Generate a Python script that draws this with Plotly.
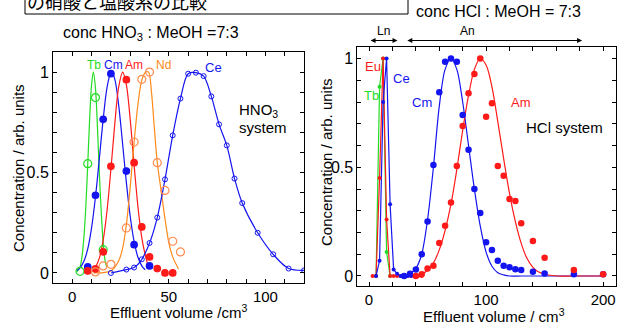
import plotly.graph_objects as go

# ---------------- HNO3 system (left panel) ----------------
tb_v = [4, 8, 12, 16]
tb_c = [0.008, 0.544, 0.873, 0.116]
tb_fit_v = [2.3, 4, 5, 6, 7, 8, 9, 10, 10.9, 12, 13, 14, 15, 16, 17, 17.8]
tb_fit_c = [0.005, 0.03, 0.08, 0.176, 0.33, 0.54, 0.77, 0.94, 1.0, 0.92, 0.73, 0.5, 0.3, 0.15, 0.06, 0.03]

cm_v = [8, 12, 16, 20, 28, 32, 40]
cm_c = [0.03, 0.387, 0.765, 0.992, 0.507, 0.141, 0.035]
cm_fit_v = [2.3, 4, 6, 8, 10, 12, 14, 16, 18, 20, 20.4, 22, 24, 26, 28, 30, 32, 34, 36, 37.7]
cm_fit_c = [0.011, 0.025, 0.058, 0.12, 0.226, 0.378, 0.569, 0.766, 0.924, 0.998, 1.0, 0.965,
            0.837, 0.649, 0.451, 0.281, 0.157, 0.078, 0.035, 0.016]

am_v = [8, 12, 16, 20, 28, 32, 36, 40, 44, 48, 52]
am_c = [0.01, 0.02, 0.105, 0.531, 0.962, 0.549, 0.229, 0.08, 0.022, 0.0, 0.0]
am_fit_v = [11, 12, 14, 16, 18, 20, 22, 24, 26.1, 28, 30, 32, 34, 36, 38, 39.4]
am_fit_c = [0.015, 0.029, 0.074, 0.163, 0.311, 0.516, 0.742, 0.925, 1.0, 0.938, 0.763, 0.538,
            0.329, 0.175, 0.08, 0.03]

nd_v = [12, 16, 20, 28, 32, 36, 40, 44, 48, 52, 56]
nd_c = [0.005, 0.035, 0.043, 0.224, 0.652, 0.964, 1.0, 0.549, 0.411, 0.158, 0.105]
nd_fit_v = [11, 16, 20, 24, 26, 28, 30, 32, 34, 36, 38, 39.5, 41, 42.5, 44, 46, 48, 50, 52, 55]
nd_fit_c = [0.0, 0.002, 0.01, 0.06, 0.12, 0.24, 0.43, 0.65, 0.84, 0.96, 1.0, 1.0, 0.9, 0.72,
            0.55, 0.41, 0.27, 0.15, 0.08, 0.02]

ce_v = [20, 28, 32, 36, 40, 44, 48, 52, 56, 60, 64, 68, 72, 76, 80, 84, 88, 96, 104, 112, 120]
ce_c = [0.0, 0.017, 0.027, 0.068, 0.149, 0.276, 0.466, 0.685, 0.868, 0.992, 0.997, 0.98,
        0.879, 0.74, 0.635, 0.47, 0.348, 0.2, 0.093, 0.022, 0.013]

# ---------------- HCl system (right panel) ----------------
eu2_v = [3, 6, 9, 12, 15, 18, 21, 24, 27, 30, 33, 36, 39, 42, 45]
eu2_c = [0, 0, 0.45, 1.0, 0.26, 0, 0, 0, 0, 0, 0, 0, 0, 0, 0]
tb2_v = [6, 9, 12, 15, 18]
tb2_c = [0, 0.87, 1.0, 0.11, 0]
ce2_v = [6, 9, 12, 15, 18, 21, 24, 27, 30, 33, 36]
ce2_c = [0, 0.07, 0.8, 1.0, 0.33, 0.03, 0.01, 0, 0, 0, 0]

cm2_v = [30, 35, 40, 45, 50, 55, 60, 65, 70, 75, 80, 85, 90, 95, 100, 105, 110, 115, 120,
         125, 130, 140, 150, 175, 200]
cm2_c = [0.0, 0.01, 0.03, 0.10, 0.25, 0.51, 0.845, 0.985, 1.0, 0.985, 0.74, 0.58, 0.40, 0.29,
         0.155, 0.12, 0.07, 0.047, 0.04, 0.031, 0.028, 0.02, 0.012, 0.008, 0.008]
cm2_fit_v = [25, 30, 35, 40, 45, 50, 55, 60, 65, 70, 75, 80, 85, 90, 95, 100, 105, 110, 115,
             120, 130, 150, 200]
cm2_fit_c = [0.0, 0.003, 0.012, 0.035, 0.1, 0.26, 0.5, 0.78, 0.95, 1.0, 0.95, 0.8, 0.6, 0.4,
             0.23, 0.11, 0.045, 0.015, 0.005, 0.0, 0.0, 0.0, 0.0]

am2_v = [40, 45, 50, 55, 60, 65, 70, 75, 80, 85, 90, 95, 100, 105, 110, 115, 120, 125, 130,
         140, 150, 175, 200]
am2_c = [0.0, 0.008, 0.035, 0.047, 0.152, 0.231, 0.338, 0.506, 0.69, 0.84, 0.929, 1.0, 0.732,
         0.794, 0.506, 0.461, 0.354, 0.345, 0.242, 0.161, 0.084, 0.028, 0.008]
am2_fit_v = [35, 40, 45, 50, 55, 60, 65, 70, 75, 80, 85, 90, 95, 100, 105, 110, 115, 120, 125,
             130, 135, 140, 145, 150, 160, 175, 200]
am2_fit_c = [0.0, 0.002, 0.01, 0.025, 0.06, 0.12, 0.21, 0.33, 0.49, 0.67, 0.83, 0.95, 1.0, 0.97,
             0.87, 0.71, 0.54, 0.38, 0.25, 0.15, 0.08, 0.04, 0.018, 0.008, 0.0, 0.0, 0.0]

# axis ticks
x1_ticks = list(range(0, 121, 10))
x1_labels = ["0", "", "", "", "", "50", "", "", "", "", "100", "", ""]
x2_ticks = list(range(0, 201, 20))
x2_labels = ["0", "", "", "", "", "100", "", "", "", "", "200"]
y_ticks = [round(0.1 * i, 1) for i in range(11)]
y_labels = ["0", "", "", "", "", "0.5", "", "", "", "", "1"]

GREEN = "#22dd22"
BLUE = "#1414f0"
RED = "#ff1a1a"
ORANGE = "#ff8a1a"
ORANGE_PT = "#ff8c50"
FONT = "Liberation Sans, Arial, sans-serif"
JP_FONT = "Noto Sans CJK JP"

fig = go.Figure()


def curve(x, y, color, xa="x", ya="y", shape="spline", width=1.2):
    fig.add_trace(go.Scatter(x=x, y=y, mode="lines", xaxis=xa, yaxis=ya,
                             line=dict(color=color, width=width, shape=shape, smoothing=0.9),
                             hoverinfo="skip", showlegend=False))


def points(x, y, color, symbol, size, xa="x", ya="y", lw=1.2):
    fig.add_trace(go.Scatter(x=x, y=y, mode="markers", xaxis=xa, yaxis=ya,
                             marker=dict(color=color, symbol=symbol, size=size,
                                         line=dict(color=color, width=lw)),
                             showlegend=False))


# left panel
curve(tb_fit_v, tb_fit_c, GREEN)
curve(cm_fit_v, cm_fit_c, BLUE)
curve(am_fit_v, am_fit_c, RED)
curve(nd_fit_v, nd_fit_c, ORANGE)
curve(ce_v, ce_c, BLUE)
points(tb_v, tb_c, GREEN, "circle-open", 8)
points(cm_v, cm_c, BLUE, "circle", 6.5)
points(am_v, am_c, RED, "circle", 6.5)
points(nd_v, nd_c, ORANGE_PT, "circle-open", 8)
points(ce_v, ce_c, BLUE, "circle-open", 5, lw=1)

# right panel
curve(cm2_fit_v, cm2_fit_c, BLUE, "x2", "y2")
curve(am2_fit_v, am2_fit_c, RED, "x2", "y2")
curve(tb2_v, tb2_c, GREEN, "x2", "y2", shape="linear")
curve(eu2_v, eu2_c, RED, "x2", "y2", shape="linear")
curve(ce2_v, ce2_c, BLUE, "x2", "y2", shape="linear")
points(tb2_v, tb2_c, GREEN, "circle", 4, "x2", "y2", lw=0)
points(eu2_v, eu2_c, RED, "circle", 4, "x2", "y2", lw=0)
points(ce2_v, ce2_c, BLUE, "circle", 4, "x2", "y2", lw=0)
points(cm2_v, cm2_c, BLUE, "circle", 6.5, "x2", "y2", lw=0)
points(am2_v, am2_c, RED, "circle", 6.5, "x2", "y2", lw=0)

axis_common = dict(showline=True, linecolor="black", linewidth=1, mirror="allticks",
                   ticks="inside", ticklen=4, tickwidth=1, tickcolor="black",
                   showgrid=False, zeroline=False, tickmode="array", automargin=False)
x_font = dict(family=FONT, size=15, color="black")
y_font = dict(family=FONT, size=16, color="black")

fig.update_layout(
    width=627, height=324,
    margin=dict(l=0, r=0, t=0, b=0),
    paper_bgcolor="white", plot_bgcolor="white",
    showlegend=False,
    xaxis=dict(domain=[0.0845, 0.4849], range=[-10, 120], anchor="y",
               tickvals=x1_ticks, ticktext=x1_labels, tickfont=x_font, **axis_common),
    yaxis=dict(domain=[0.1265, 0.8395], range=[-0.05, 1.1], anchor="x",
               tickvals=y_ticks, ticktext=y_labels, tickfont=y_font, **axis_common),
    xaxis2=dict(domain=[0.5699, 0.9825], range=[-10, 211], anchor="y2",
                tickvals=x2_ticks, ticktext=x2_labels, tickfont=x_font, **axis_common),
    yaxis2=dict(domain=[0.1173, 0.855], range=[-0.046, 1.053], anchor="x2",
                tickvals=y_ticks, ticktext=y_labels, tickfont=y_font, **axis_common),
)


def px_x(p):
    return p / 627.0


def px_y(p):
    return 1 - p / 324.0


ann = []


def label(text, x, y, color="black", size=12, xref="x", yref="y", angle=0, family=FONT):
    ann.append(dict(text=text, x=x, y=y, xref=xref, yref=yref, showarrow=False,
                    textangle=angle, font=dict(family=family, size=size, color=color),
                    xanchor="center", yanchor="middle"))


# series labels, left
label("Tb", 11.4, 1.033, GREEN)
label("Cm", 21.2, 1.033, BLUE)
label("Am", 31.9, 1.033, RED)
label("Nd", 47.1, 1.033, ORANGE)
label("Ce", 73.1, 1.022, BLUE, size=13)
label("HNO<sub>3</sub>", 96.4, 0.81, size=15)
label("system", 99.0, 0.723, size=15)

# series labels, right
label("Eu", 3, 0.962, RED, size=13, xref="x2", yref="y2")
label("Ce", 27.7, 0.909, BLUE, size=13, xref="x2", yref="y2")
label("Tb", 2.2, 0.832, GREEN, size=13, xref="x2", yref="y2")
label("Cm", 45.6, 0.8, BLUE, size=13, xref="x2", yref="y2")
label("Am", 129.8, 0.8, RED, size=13, xref="x2", yref="y2")
label("HCl system", 166.6, 0.684, size=15, xref="x2", yref="y2")

# axis titles
label("Concentration / arb. units", px_x(18), px_y(168), size=15, xref="paper", yref="paper", angle=-90)
label("Concentration / arb. units", px_x(326), px_y(162), size=15, xref="paper", yref="paper", angle=-90)
label("Effluent volume /cm<sup>3</sup>", px_x(178), px_y(311), size=15, xref="paper", yref="paper")
label("Effluent volume / cm<sup>3</sup>", px_x(494), px_y(315), size=15, xref="paper", yref="paper")

# panel headings
label("conc HNO<sub>3</sub> : MeOH =7:3", px_x(151), px_y(33), size=16, xref="paper", yref="paper")
label("conc HCl : MeOH = 7:3", px_x(498), px_y(11), size=16, xref="paper", yref="paper")
label("の硝酸と塩酸系の比較", px_x(117), px_y(1), size=18, xref="paper", yref="paper", family=JP_FONT)

# Ln / An ranges
label("Ln", 12, px_y(31), size=12, xref="x2", yref="paper")
label("An", 84, px_y(31), size=12, xref="x2", yref="paper")
for x0, x1 in [(0, 24.3), (31.4, 182)]:
    ann.append(dict(text="", x=x1, y=px_y(40.5), xref="x2", yref="paper",
                    ax=x0, ay=0, axref="x2", ayref="pixel",
                    showarrow=True, arrowhead=2, startarrowhead=2, arrowside="end+start",
                    arrowsize=1, arrowwidth=1, arrowcolor="black", startarrowsize=1))

fig.update_layout(annotations=ann)

# heading box
fig.add_shape(type="rect", xref="paper", yref="paper",
              x0=px_x(25), x1=px_x(408), y0=px_y(14), y1=px_y(-10),
              line=dict(color="black", width=1), fillcolor="rgba(0,0,0,0)", layer="above")

fig.write_html("out.html")
